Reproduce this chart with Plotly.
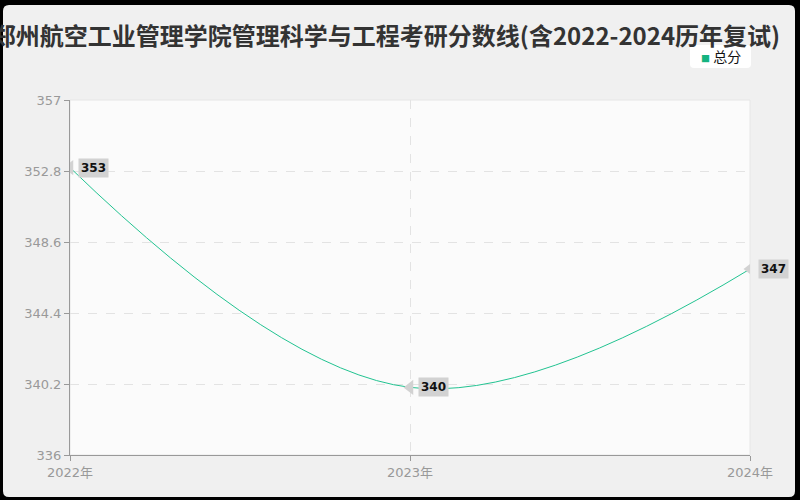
import plotly.graph_objects as go

years = ["2022年", "2023年", "2024年"]
scores = [353, 340, 347]
ytick_vals = [336, 340.2, 344.4, 348.6, 352.8, 357]
series_name = "总分"
title_text = "郑州航空工业管理学院管理科学与工程考研分数线(含2022-2024历年复试)"

line_color = "#22c391"
title_font = "Noto Sans CJK SC"
font = "DejaVu Sans, Noto Sans CJK SC"

# plot area in pixels, used to place the card around it
L, R, T, B = 70, 750, 100, 455


def px(x):
    return (x - L) / (R - L)


def py(y):
    return (B - y) / (B - T)


def rounded_rect(x0, y0, x1, y1, r):
    return (f"M {px(x0 + r)} {py(y0)} L {px(x1 - r)} {py(y0)} "
            f"Q {px(x1)} {py(y0)} {px(x1)} {py(y0 + r)} "
            f"L {px(x1)} {py(y1 - r)} Q {px(x1)} {py(y1)} {px(x1 - r)} {py(y1)} "
            f"L {px(x0 + r)} {py(y1)} Q {px(x0)} {py(y1)} {px(x0)} {py(y1 - r)} "
            f"L {px(x0)} {py(y0 + r)} Q {px(x0)} {py(y0)} {px(x0 + r)} {py(y0)} Z")


fig = go.Figure()

fig.add_trace(go.Scatter(
    x=years, y=scores, mode="lines", name=series_name,
    line=dict(color=line_color, width=1, shape="spline", smoothing=1.1),
    showlegend=False, hoverinfo="skip",
))

# label arrows
fig.add_trace(go.Scatter(
    x=years, y=scores, mode="markers",
    marker=dict(symbol="triangle-left", size=13, color="#d2d2d2"),
    showlegend=False, hoverinfo="skip",
))

for xv, yv in zip(years, scores):
    fig.add_annotation(
        x=xv, y=yv, text=f"<b>{yv}</b>", showarrow=False,
        xanchor="left", yanchor="middle", xshift=8,
        bgcolor="#d2d2d2", borderpad=2,
        font=dict(family=font, size=12, color="#111"),
    )

# legend: rounded white box under the title, text on top
fig.add_shape(
    type="path", xref="paper", yref="paper", layer="above",
    path=rounded_rect(690, 45, 751, 68, 4),
    fillcolor="#ffffff", line=dict(width=0),
)
fig.add_annotation(
    xref="paper", yref="paper", x=px(720.5), y=py(56.5),
    xanchor="center", yanchor="middle", showarrow=False,
    text=f"<span style='color:#14b37f;font-size:9px'>■</span> {series_name}",
    font=dict(family="Noto Sans CJK SC", size=14, color="#111"),
)

# card on dark frame, then the plot area
fig.add_shape(
    type="path", xref="paper", yref="paper", layer="below",
    path=rounded_rect(3, 5, 795, 497, 6),
    fillcolor="#f0f0f0", line=dict(width=0),
)
fig.add_shape(
    type="rect", xref="paper", yref="paper", layer="below",
    x0=0, y0=0, x1=1, y1=1,
    fillcolor="#fbfbfb", line=dict(width=1, color="#e6e6e6"),
)

fig.update_layout(
    width=800, height=500,
    margin=dict(l=L, r=800 - R, t=T, b=500 - B),
    paper_bgcolor="#000000",
    plot_bgcolor="#fbfbfb",
    showlegend=False,
    title=dict(
        text=title_text, x=0.4825, xanchor="center", y=0.926, yanchor="middle",
        font=dict(family=title_font, size=24, color="#333333", weight="bold"),
    ),
    font=dict(family=font),
)

fig.update_xaxes(
    type="category", range=[0, 2],
    showline=True, linecolor="#999999", linewidth=1,
    ticks="outside", ticklen=5, tickcolor="#999999",
    showgrid=True, gridcolor="#e3e3e3", griddash="dash", gridwidth=1,
    tickfont=dict(family=font, size=13, color="#999999"),
    zeroline=False,
)
fig.update_yaxes(
    range=[336, 357], tickvals=ytick_vals,
    ticktext=[f"{v:g}" for v in ytick_vals],
    showline=True, linecolor="#999999", linewidth=1,
    ticks="outside", ticklen=5, tickcolor="#999999",
    showgrid=True, gridcolor="#e3e3e3", griddash="dash", gridwidth=1,
    tickfont=dict(family=font, size=13, color="#999999"),
    zeroline=False,
)

fig.write_html("out.html", config={"displayModeBar": False},
               post_script="document.body.style.margin='0';")
